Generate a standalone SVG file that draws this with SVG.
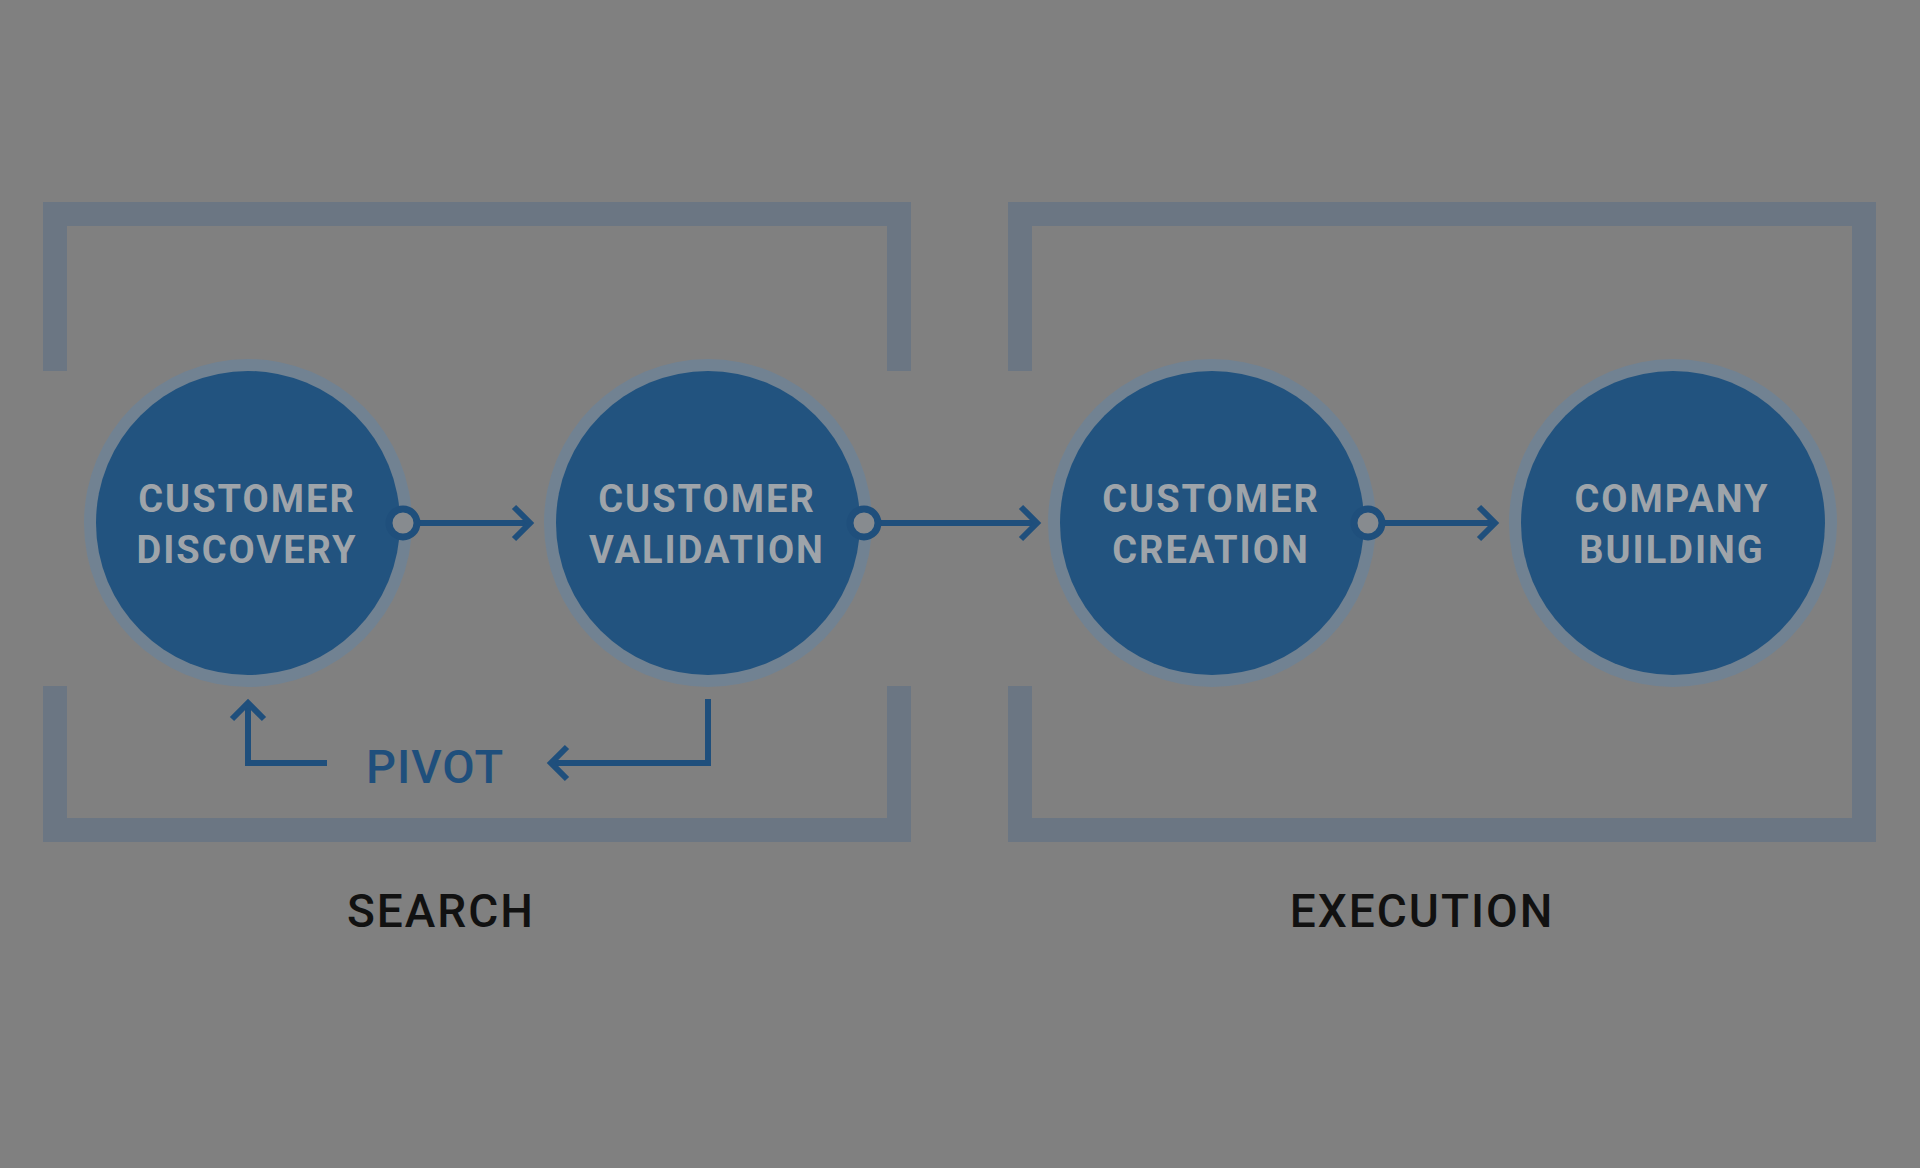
<svg xmlns="http://www.w3.org/2000/svg" width="1920" height="1168" viewBox="0 0 1920 1168">
<defs>
<style>
.bracket{fill:none;stroke:#6b7683;stroke-width:24;stroke-linecap:butt}
.ring{fill:#718292}
.core{fill:#22537f}
.ntext{font-family:Roboto,"Liberation Sans",sans-serif;font-weight:700;font-size:38px;letter-spacing:2px;fill:#9ea4aa;text-anchor:middle}
.conn{fill:none;stroke:#1f4f7c;stroke-width:6;stroke-linecap:butt;stroke-linejoin:miter}
.knob{fill:#878b8f;stroke:#1f4f7c;stroke-width:7}
.pivot{font-family:Roboto,"Liberation Sans",sans-serif;font-weight:500;font-size:47px;letter-spacing:1px;fill:#1f4f7c}
.label{font-family:Roboto,"Liberation Sans",sans-serif;font-weight:500;font-size:46px;letter-spacing:2px;fill:#111111;text-anchor:middle}
</style>
</defs>
<rect width="1920" height="1168" fill="#808080"/>

<g id="search-group">
<path class="bracket" d="M55 371 V214 H899 V371"/>
<path class="bracket" d="M55 686 V830 H899 V686"/>
<text class="label" x="441" y="927">SEARCH</text>
</g>

<g id="execution-group">
<path class="bracket" d="M1020 371 V214 H1864 V830 H1020 V686"/>
<text class="label" x="1422" y="927">EXECUTION</text>
</g>

<g id="customer-discovery">
<circle class="ring" cx="248" cy="523" r="164"/>
<circle class="core" cx="248" cy="523" r="152"/>
<text class="ntext" x="247" y="512">CUSTOMER</text>
<text class="ntext" x="247" y="563">DISCOVERY</text>
</g>

<g id="customer-validation">
<circle class="ring" cx="708" cy="523" r="164"/>
<circle class="core" cx="708" cy="523" r="152"/>
<text class="ntext" x="707" y="512">CUSTOMER</text>
<text class="ntext" x="707" y="563">VALIDATION</text>
</g>

<g id="customer-creation">
<circle class="ring" cx="1212" cy="523" r="164"/>
<circle class="core" cx="1212" cy="523" r="152"/>
<text class="ntext" x="1211" y="512">CUSTOMER</text>
<text class="ntext" x="1211" y="563">CREATION</text>
</g>

<g id="company-building">
<circle class="ring" cx="1673" cy="523" r="164"/>
<circle class="core" cx="1673" cy="523" r="152"/>
<text class="ntext" x="1672" y="512">COMPANY</text>
<text class="ntext" x="1672" y="563">BUILDING</text>
</g>

<g id="connectors">
<path class="conn" d="M417 523 H530"/>
<path class="conn" d="M514 507 L530 523 L514 539"/>
<circle class="knob" cx="403" cy="523" r="14"/>

<path class="conn" d="M878 523 H1037"/>
<path class="conn" d="M1021 507 L1037 523 L1021 539"/>
<circle class="knob" cx="864" cy="523" r="14"/>

<path class="conn" d="M1382 523 H1495"/>
<path class="conn" d="M1479 507 L1495 523 L1479 539"/>
<circle class="knob" cx="1368" cy="523" r="14"/>

<path class="conn" d="M327 763 H248 V703"/>
<path class="conn" d="M232 719 L248 703 L264 719"/>
<path class="conn" d="M708 699 V763 H551"/>
<path class="conn" d="M567 747 L551 763 L567 779"/>
<text class="pivot" x="366" y="783">PIVOT</text>
</g>
</svg>
